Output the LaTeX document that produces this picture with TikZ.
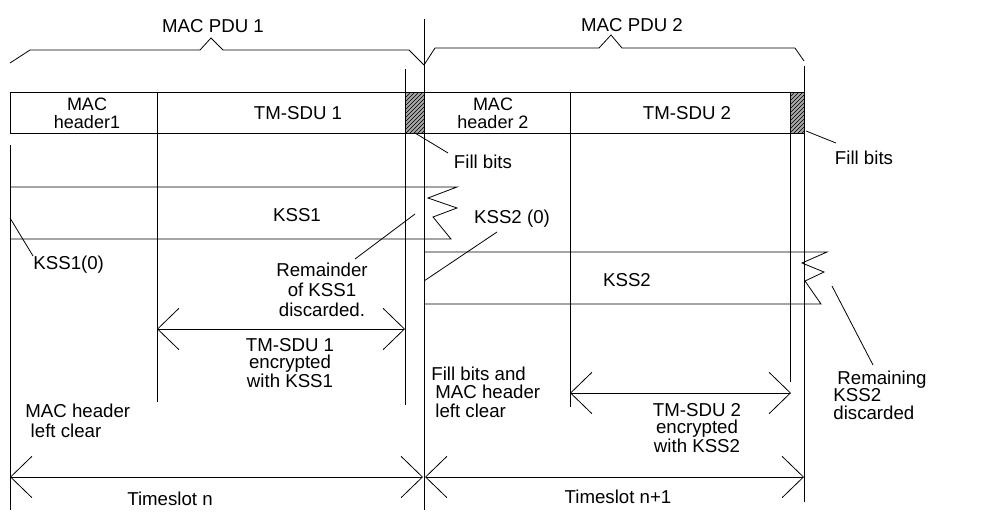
\documentclass[tikz,border=0pt]{standalone}
\usepackage{fontspec}
\setmainfont{Liberation Sans}
\usetikzlibrary{arrows.meta,patterns}
\begin{document}
\begin{tikzpicture}[x=0.75pt,y=-0.75pt,line width=0.6pt,
  lbl/.style={font=\fontsize{14}{14}\selectfont,align=center,inner sep=0pt},
  tight/.style={font=\fontsize{13.5}{13.5}\selectfont},
  dim/.style={{Straight Barb[length=16pt,width=31pt]}-{Straight Barb[length=16pt,width=31pt]}},
  hatchbox/.style={draw,pattern=north east lines}]
\useasboundingbox (0,0) rectangle (1003,511);

% braces
\draw (10,63) -- (30,50) -- (200,50) -- (211,38) -- (223,50) -- (409,50) -- (424,65);
\draw (424,65) -- (435,48) -- (599,48) -- (611,35) -- (622,48) -- (795,48) -- (804,61);
\node[lbl] (pdu1) at (213,26) {MAC PDU 1};
\node[lbl] (pdu2) at (632,25) {MAC PDU 2};

% boxes
\draw (10,92) rectangle (424,133);
\draw (424,92) rectangle (804,133);
\fill[gray!70] (405,92) rectangle (424,133);
\path[hatchbox] (405,92) rectangle (424,133);
\fill[gray!70] (790,92) rectangle (804,133);
\path[hatchbox] (790,92) rectangle (804,133);
\node[lbl,tight] (mh1) at (87,113) {MAC\\header1};
\node[lbl] (sdu1) at (298,113) {TM-SDU 1};
\node[lbl,tight] (mh2) at (493,113) {MAC\\header 2};
\node[lbl] (sdu2) at (687,113) {TM-SDU 2};

% vertical lines
\draw (10,145) -- (10,510);
\draw (157,92) -- (157,402);
\draw (405,69) -- (405,405);
\draw (424,19) -- (424,510);
\draw (570,92) -- (570,407);
\draw (790,92) -- (790,382);
\draw (804,66) -- (804,502);

% KSS1 band
\draw (10,187) -- (457,187) -- (428,198) -- (457,208) -- (433,217) -- (451,239) -- (10,239);
\node[lbl] (kss1) at (297,215) {KSS1};
\node[lbl,anchor=west] (kss10) at (33,265) {KSS1(0)};
\coordinate (kss10p) at (10,218);
\draw (kss10p) -- (kss10.north west);
\node[lbl,font=\fontsize{14}{15}\selectfont] (rem) at (322,290) {Remainder\\of KSS1\\discarded.};
\coordinate (remA) at (355,259);
\coordinate (remB) at (415,214);
\draw (remA) -- (remB);

% fill bits
\node[lbl] (fb1) at (483,162) {Fill bits};
\coordinate (fb1a) at (415,133);
\coordinate (fb1b) at (448,153);
\draw (fb1a) -- (fb1b);
\node[lbl] (fb2) at (864,158) {Fill bits};
\coordinate (fb2a) at (806,131);
\coordinate (fb2b) at (836,143);
\draw (fb2a) -- (fb2b);

% KSS2 band
\draw (424,252) -- (827,252) -- (802,263) -- (824,272) -- (805,281) -- (821,304) -- (424,304);
\node[lbl] (kss2) at (627,280) {KSS2};
\node[lbl] (kss20) at (512,219) {KSS2 (0)};
\coordinate (kss20a) at (497,232);
\coordinate (kss20b) at (424,281);
\draw (kss20a) -- (kss20b);
\node[lbl,anchor=west,align=left,font=\fontsize{14}{13}\selectfont] (remk2) at (833,395) {\hspace{3pt}Remaining\\KSS2\\discarded};
\coordinate (rk2a) at (832,286);
\coordinate (rk2b) at (873,365);
\draw (rk2a) -- (rk2b);

% TM-SDU 1 arrow
\coordinate (a1l) at (157,329);
\coordinate (a1r) at (405,329);
\draw[dim] (a1l) -- (a1r);
\node[lbl,font=\fontsize{14}{13}\selectfont] (enc1) at (290,363) {TM-SDU 1\\encrypted\\with KSS1};
\node[lbl,anchor=west,align=left,font=\fontsize{14}{15}\selectfont] (mlc) at (25,421) {MAC header\\\hspace{4pt}left clear};

% timeslot n
\coordinate (t1l) at (10,477);
\coordinate (t1r) at (423,477);
\draw[dim] (t1l) -- (t1r);
\node[lbl] (ts1) at (170,499) {Timeslot n};

% slot 2
\node[lbl,anchor=west,align=left,font=\fontsize{14}{14}\selectfont] (fbm) at (431,392) {Fill bits and\\\hspace{3pt}MAC header\\\hspace{3pt}left clear};
\coordinate (a2l) at (570,393);
\coordinate (a2r) at (791,393);
\draw[dim] (a2l) -- (a2r);
\node[lbl,font=\fontsize{14}{13}\selectfont] (enc2) at (697,428) {TM-SDU 2\\encrypted\\with KSS2};
\coordinate (t2l) at (425,477);
\coordinate (t2r) at (804,477);
\draw[dim] (t2l) -- (t2r);
\node[lbl] (ts2) at (618,497) {Timeslot n+1};
\end{tikzpicture}
\end{document}
